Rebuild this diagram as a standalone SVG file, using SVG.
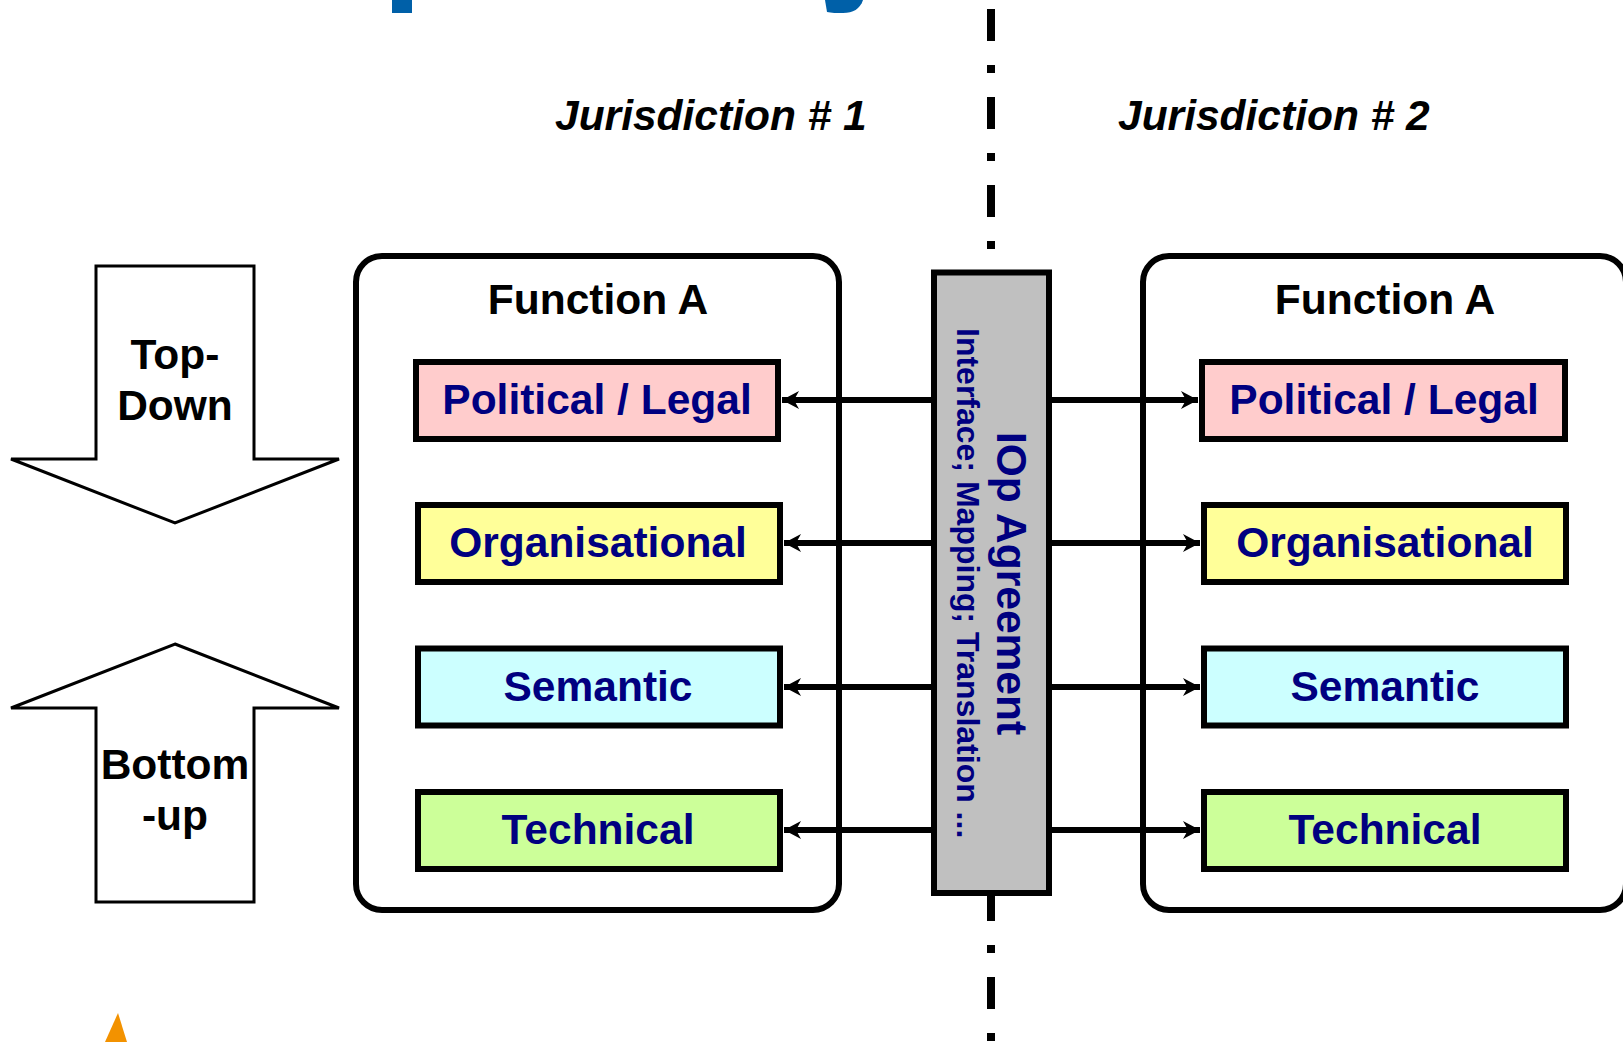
<svg xmlns="http://www.w3.org/2000/svg" width="1623" height="1042" viewBox="0 0 1623 1042">
<style>
text{font-family:"Liberation Sans",Arial,sans-serif;font-weight:bold}
.lbl{font-size:42.5px;fill:#000080;text-anchor:middle}
.blk{font-size:42.5px;fill:#000;text-anchor:middle}
.jur{font-size:42.5px;font-style:italic;fill:#000}
.fn{fill:#fff;stroke:#000;stroke-width:6}
.box{stroke:#000;stroke-width:6}
.big{fill:#fff;stroke:#000;stroke-width:3}
.con{stroke:#000;stroke-width:6;fill:none}
</style>
<defs>
<marker id="ah" markerUnits="userSpaceOnUse" markerWidth="20" markerHeight="20" refX="17" refY="10" orient="auto-start-reverse"><path d="M0 1L17 10L0 19L5 10Z" fill="#000"/></marker>
</defs>
<rect width="1623" height="1042" fill="#fff"/>
<g id="title-fragments" fill="#0060a8">
<rect x="392" y="0" width="20" height="13"/>
<path d="M825 0H863C860 9 853 13 843 13C837 13 831 13 827 12Z"/>
</g>
<path id="divider" d="M991 9V1042" stroke="#000" stroke-width="8" stroke-dasharray="32 24 8 24" fill="none"/>
<text class="jur" x="555" y="130">Jurisdiction # 1</text>
<text class="jur" x="1118" y="130">Jurisdiction # 2</text>
<g id="top-down"><path class="big" d="M96 266H254V459H339L175 523L11 459H96Z"/><text class="blk" x="175" y="369">Top-</text><text class="blk" x="175" y="420">Down</text></g>
<g id="bottom-up"><path class="big" d="M175 644L339 708H254V902H96V708H11Z"/><text class="blk" x="175" y="779">Bottom</text><text class="blk" x="175" y="830">-up</text></g>
<g id="function-left"><rect class="fn" x="356" y="256" width="483" height="654" rx="26"/><text class="blk" x="598" y="314">Function A</text></g>
<g id="function-right"><rect class="fn" x="1143" y="256" width="483" height="654" rx="26"/><text class="blk" x="1385" y="314">Function A</text></g>
<g id="connectors">
<path class="con" marker-end="url(#ah)" d="M934 400H782"/><path class="con" marker-end="url(#ah)" d="M934 543H784"/><path class="con" marker-end="url(#ah)" d="M934 687H784"/><path class="con" marker-end="url(#ah)" d="M934 830H784"/>
<path class="con" marker-end="url(#ah)" d="M1049 400H1198"/><path class="con" marker-end="url(#ah)" d="M1049 543H1200"/><path class="con" marker-end="url(#ah)" d="M1049 687H1200"/><path class="con" marker-end="url(#ah)" d="M1049 830H1200"/>
</g>
<g id="iop"><rect class="box" x="934" y="272.5" width="115" height="620.5" fill="#c0c0c0"/>
<text transform="translate(997 432) rotate(90)" style="font-size:42.5px;fill:#000080">IOp Agreement</text>
<text transform="translate(957 328) rotate(90)" style="font-size:32px;fill:#000080">Interface; Mapping; Translation ...</text></g>
<g id="l1"><rect class="box" x="416" y="362" width="362" height="77" fill="#ffcccc"/><text class="lbl" x="597" y="414">Political / Legal</text></g>
<g id="l2"><rect class="box" x="418" y="505" width="362" height="77" fill="#ffff99"/><text class="lbl" x="598" y="557">Organisational</text></g>
<g id="l3"><rect class="box" x="418" y="648.5" width="362" height="77" fill="#ccffff"/><text class="lbl" x="598" y="700.5">Semantic</text></g>
<g id="l4"><rect class="box" x="418" y="792" width="362" height="77" fill="#ccff99"/><text class="lbl" x="598" y="844">Technical</text></g>
<g id="r1"><rect class="box" x="1202" y="362" width="363" height="77" fill="#ffcccc"/><text class="lbl" x="1384" y="414">Political / Legal</text></g>
<g id="r2"><rect class="box" x="1204" y="505" width="362" height="77" fill="#ffff99"/><text class="lbl" x="1385" y="557">Organisational</text></g>
<g id="r3"><rect class="box" x="1204" y="648.5" width="362" height="77" fill="#ccffff"/><text class="lbl" x="1385" y="700.5">Semantic</text></g>
<g id="r4"><rect class="box" x="1204" y="792" width="362" height="77" fill="#ccff99"/><text class="lbl" x="1385" y="844">Technical</text></g>
<path id="orange-fragment" d="M118 1013L127 1042H105Z" fill="#f39200"/>
</svg>
